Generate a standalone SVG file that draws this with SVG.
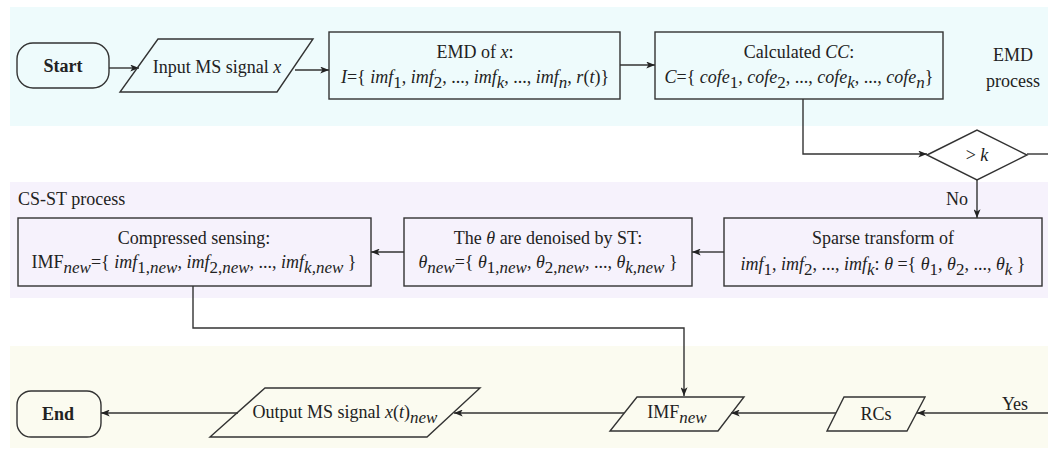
<svg xmlns="http://www.w3.org/2000/svg" width="1048" height="452" viewBox="0 0 1048 452">
  <style>
    .shape { fill: none; stroke: #333; stroke-width: 1.4; }
    .wire { fill: none; stroke: #333; stroke-width: 1.4; }
    text { font-family: 'Liberation Serif', serif; font-size: 18px; fill: #222; }
    .c { text-anchor: middle; }
    .b { font-weight: bold; }
    .i { font-style: italic; }
    .s { font-size: 17px; }
  </style>
  <defs>
    <marker id="arr" viewBox="0 0 10 8" refX="10" refY="4" markerWidth="10" markerHeight="7" orient="auto" markerUnits="userSpaceOnUse">
      <path d="M0,0 L10,4 L0,8 L2.5,4 Z" fill="#222"/>
    </marker>
  </defs>

  <!-- stage bands -->
  <g id="bands">
    <rect x="10" y="7" width="1038" height="119" fill="#eefbfc"/>
    <rect x="10" y="182" width="1038" height="116" fill="#f6f2fc"/>
    <rect x="10" y="346" width="1038" height="102" fill="#fbfbf0"/>
    <text x="1013" y="61" class="c">EMD</text>
    <text x="1013" y="87" class="c">process</text>
    <text x="18" y="205">CS-ST process</text>
  </g>

  <!-- connectors -->
  <g id="connectors">
    <line class="wire" x1="109" y1="68" x2="139" y2="68" marker-end="url(#arr)"/>
    <line class="wire" x1="295" y1="70" x2="329" y2="70" marker-end="url(#arr)"/>
    <line class="wire" x1="620" y1="65" x2="655" y2="65" marker-end="url(#arr)"/>
    <polyline class="wire" points="803,99 803,154 927,154" marker-end="url(#arr)"/>
    <line class="wire" x1="1027" y1="154" x2="1048" y2="154"/>
    <line class="wire" x1="977" y1="180" x2="977" y2="218" marker-end="url(#arr)"/>
    <text x="957" y="205" class="c">No</text>
    <line class="wire" x1="724" y1="252" x2="692" y2="252" marker-end="url(#arr)"/>
    <line class="wire" x1="404" y1="252" x2="371" y2="252" marker-end="url(#arr)"/>
    <polyline class="wire" points="193,286 193,328 684,328 684,396" marker-end="url(#arr)"/>
    <line class="wire" x1="1048" y1="413" x2="917" y2="413" marker-end="url(#arr)"/>
    <text x="1015" y="410" class="c">Yes</text>
    <line class="wire" x1="836" y1="413" x2="731" y2="413" marker-end="url(#arr)"/>
    <line class="wire" x1="624" y1="413" x2="454" y2="413" marker-end="url(#arr)"/>
    <line class="wire" x1="238" y1="413" x2="101" y2="413" marker-end="url(#arr)"/>
  </g>

  <g id="start">
    <rect class="shape" x="17" y="43" width="92" height="45" rx="16"/>
    <text x="63" y="72" class="c b">Start</text>
  </g>

  <g id="input">
    <polygon class="shape" points="158,39 313,39 277,92 120,92"/>
    <text x="217" y="73" class="c">Input MS signal <tspan class="i">x</tspan></text>
  </g>

  <g id="emd">
    <rect class="shape" x="329" y="32" width="291" height="67"/>
    <text x="475" y="58" class="c">EMD of <tspan class="i">x</tspan>:</text>
    <text x="475" y="83" class="c"><tspan class="i">I</tspan>={ <tspan class="i">imf</tspan><tspan class="s" dy="5">1</tspan><tspan dy="-5">, </tspan><tspan class="i">imf</tspan><tspan class="s" dy="5">2</tspan><tspan dy="-5">, ..., </tspan><tspan class="i">imf</tspan><tspan class="s i" dy="5">k</tspan><tspan dy="-5">, ..., </tspan><tspan class="i">imf</tspan><tspan class="s i" dy="5">n</tspan><tspan dy="-5">, </tspan><tspan class="i">r</tspan>(<tspan class="i">t</tspan>)}</text>
  </g>

  <g id="cc">
    <rect class="shape" x="655" y="32" width="288" height="67"/>
    <text x="799" y="58" class="c">Calculated <tspan class="i">CC</tspan>:</text>
    <text x="799" y="83" class="c"><tspan class="i">C</tspan>={ <tspan class="i">cofe</tspan><tspan class="s" dy="5">1</tspan><tspan dy="-5">, </tspan><tspan class="i">cofe</tspan><tspan class="s" dy="5">2</tspan><tspan dy="-5">, ..., </tspan><tspan class="i">cofe</tspan><tspan class="s i" dy="5">k</tspan><tspan dy="-5">, ..., </tspan><tspan class="i">cofe</tspan><tspan class="s i" dy="5">n</tspan><tspan dy="-5">}</tspan></text>
  </g>

  <g id="decision">
    <polygon class="shape" points="927,155 977,130 1027,155 977,180"/>
    <text x="977" y="161" class="c">&gt; <tspan class="i">k</tspan></text>
  </g>

  <g id="sparse">
    <rect class="shape" x="724" y="218" width="318" height="68"/>
    <text x="883" y="244" class="c">Sparse transform of</text>
    <text x="883" y="270" class="c"><tspan class="i">imf</tspan><tspan class="s" dy="5">1</tspan><tspan dy="-5">, </tspan><tspan class="i">imf</tspan><tspan class="s" dy="5">2</tspan><tspan dy="-5">, ..., </tspan><tspan class="i">imf</tspan><tspan class="s i" dy="5">k</tspan><tspan dy="-5">:  </tspan><tspan class="i">θ</tspan> ={ <tspan class="i">θ</tspan><tspan class="s" dy="5">1</tspan><tspan dy="-5">, </tspan><tspan class="i">θ</tspan><tspan class="s" dy="5">2</tspan><tspan dy="-5">, ..., </tspan><tspan class="i">θ</tspan><tspan class="s i" dy="5">k</tspan><tspan dy="-5"> }</tspan></text>
  </g>

  <g id="denoise">
    <rect class="shape" x="404" y="218" width="288" height="68"/>
    <text x="548" y="244" class="c">The <tspan class="i">θ</tspan> are denoised by ST:</text>
    <text x="548" y="268" class="c"><tspan class="i">θ</tspan><tspan class="s i" dy="5">new</tspan><tspan dy="-5">={ </tspan><tspan class="i">θ</tspan><tspan class="s" dy="5">1,</tspan><tspan class="s i">new</tspan><tspan dy="-5">, </tspan><tspan class="i">θ</tspan><tspan class="s" dy="5">2,</tspan><tspan class="s i">new</tspan><tspan dy="-5">, ..., </tspan><tspan class="i">θ</tspan><tspan class="s i" dy="5">k,new</tspan><tspan dy="-5"> }</tspan></text>
  </g>

  <g id="compressed">
    <rect class="shape" x="18" y="218" width="353" height="68"/>
    <text x="194" y="244" class="c">Compressed sensing:</text>
    <text x="194" y="268" class="c">IMF<tspan class="s i" dy="5">new</tspan><tspan dy="-5">={ </tspan><tspan class="i">imf</tspan><tspan class="s" dy="5">1,</tspan><tspan class="s i">new</tspan><tspan dy="-5">, </tspan><tspan class="i">imf</tspan><tspan class="s" dy="5">2,</tspan><tspan class="s i">new</tspan><tspan dy="-5">, ..., </tspan><tspan class="i">imf</tspan><tspan class="s i" dy="5">k,new</tspan><tspan dy="-5"> }</tspan></text>
  </g>

  <g id="imfnew">
    <polygon class="shape" points="637,397 744,397 718,431 610,431"/>
    <text x="677" y="418" class="c">IMF<tspan class="s i" dy="5">new</tspan></text>
  </g>

  <g id="rcs">
    <polygon class="shape" points="844,397 925,397 907,431 827,431"/>
    <text x="876" y="420" class="c">RCs</text>
  </g>

  <g id="output">
    <polygon class="shape" points="265,388 480,388 427,437 210,437"/>
    <text x="345" y="418" class="c">Output MS signal  <tspan class="i">x</tspan>(<tspan class="i">t</tspan>)<tspan class="s i" dy="5">new</tspan></text>
  </g>

  <g id="end">
    <rect class="shape" x="17" y="391" width="84" height="46" rx="14"/>
    <text x="58" y="420" class="c b">End</text>
  </g>
</svg>
